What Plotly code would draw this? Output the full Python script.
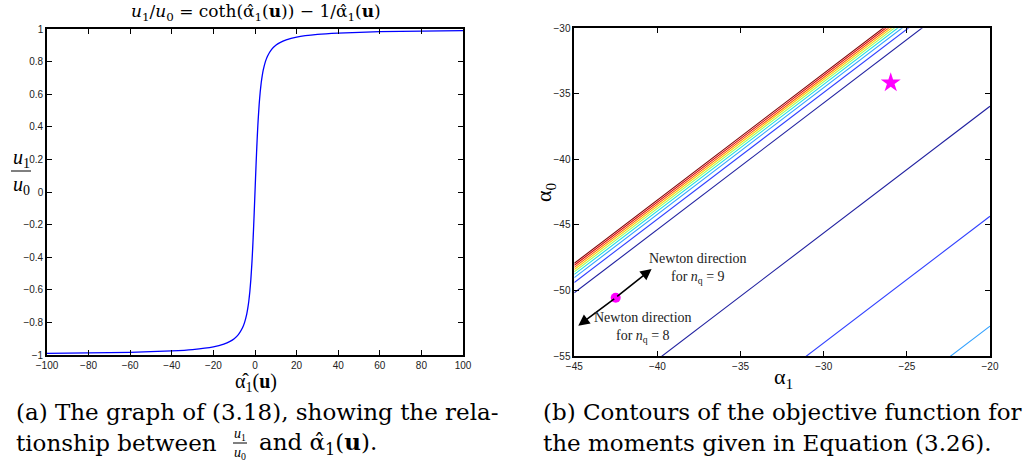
import plotly.graph_objects as go

# ---- panel (a): u1/u0 against alpha_hat_1(u) ----
alpha_hat = [-100, -80, -60, -40, -30, -20, -15, -12, -10, -8, -6, -5, -4, -3.5, -3, -2.5, -2, -1.5,
             -1.25, -1, -0.75, -0.5, -0.25, 0, 0.25, 0.5, 0.75, 1, 1.25, 1.5, 2, 2.5, 3, 3.5, 4,
             5, 6, 8, 10, 12, 15, 20, 30, 40, 60, 80, 100]
u_ratio = [-0.99, -0.9875, -0.9833, -0.975, -0.9667, -0.95, -0.9333, -0.9167, -0.9, -0.875, -0.8333,
           -0.8001, -0.7507, -0.7161, -0.6716, -0.6136, -0.5373, -0.4381, -0.3789, -0.3130, -0.2411,
           -0.1640, -0.0830, 0.0, 0.0830, 0.1640, 0.2411, 0.3130, 0.3789, 0.4381, 0.5373, 0.6136,
           0.6716, 0.7161, 0.7507, 0.8001, 0.8333, 0.875, 0.9, 0.9167, 0.9333, 0.95, 0.9667, 0.975,
           0.9833, 0.9875, 0.99]
ticks_a_x = [-100, -80, -60, -40, -20, 0, 20, 40, 60, 80, 100]
ticks_a_y = [-1, -0.8, -0.6, -0.4, -0.2, 0, 0.2, 0.4, 0.6, 0.8, 1]

# ---- panel (b): contour lines alpha0 = slope*alpha1 + offset ----
contour_slope = 0.966
contour_offsets = [-4.46, -4.61, -4.77, -4.93, -5.10, -5.30, -5.55, -5.92, -6.71,
                   -16.63, -25.02, -33.40]
contour_colors = ['#800000', '#e00000', '#ff6000', '#ffd000', '#a0ff60', '#20e0e0', '#30a0ff',
                  '#3040ff', '#2020a0', '#2020a0', '#3040ff', '#30a0ff']
alpha1_range = [-45, -20]
alpha0_range = [-55, -30]
ticks_b_x = [-45, -40, -35, -30, -25, -20]
ticks_b_y = [-55, -50, -45, -40, -35, -30]
star_point = (-25.97, -34.15)
start_point = (-42.51, -50.55)
newton_tip_9 = (-40.35, -48.36)
newton_tip_8 = (-44.76, -52.69)

SERIF = 'Liberation Serif'
CAPTION = 'DejaVu Serif'
SANS = 'Liberation Sans, Arial, sans-serif'

fig = go.Figure()

fig.add_trace(go.Scatter(x=alpha_hat, y=u_ratio, mode='lines', line=dict(color='#0000ff', width=1.3, shape='spline', smoothing=0.6),
                         xaxis='x', yaxis='y', showlegend=False, hoverinfo='skip'))

for off, col in zip(contour_offsets, contour_colors):
    xs = alpha1_range
    ys = [contour_slope * v + off for v in xs]
    fig.add_trace(go.Scatter(x=xs, y=ys, mode='lines', line=dict(color=col, width=1.1),
                             xaxis='x2', yaxis='y2', showlegend=False, hoverinfo='skip'))

fig.add_trace(go.Scatter(x=[star_point[0]], y=[star_point[1]], mode='markers',
                         marker=dict(symbol='star', size=15, color='#ff00ff', line=dict(width=0)),
                         xaxis='x2', yaxis='y2', showlegend=False))
fig.add_trace(go.Scatter(x=[start_point[0]], y=[start_point[1]], mode='markers',
                         marker=dict(symbol='circle', size=10, color='#ff00ff', line=dict(width=0)),
                         xaxis='x2', yaxis='y2', showlegend=False))

axis_common = dict(showline=True, linecolor='black', linewidth=1.6, mirror='allticks', ticks='inside',
                   ticklen=5, tickwidth=1, tickcolor='black', showgrid=False, zeroline=False,
                   automargin=False, tickfont=dict(family=SANS, size=10, color='#222'))

fig.update_layout(
    width=1033, height=465, margin=dict(l=0, r=0, t=0, b=0, autoexpand=False),
    paper_bgcolor='white', plot_bgcolor='white',
    xaxis=dict(domain=[47 / 1033, 463 / 1033], range=[-100, 100], tickvals=ticks_a_x, anchor='y', **axis_common),
    yaxis=dict(domain=[110 / 465, 436 / 465], range=[-1, 1], tickvals=ticks_a_y, anchor='x', **axis_common),
    xaxis2=dict(domain=[574.3 / 1033, 990 / 1033], range=alpha1_range, tickvals=ticks_b_x, anchor='y2', **axis_common),
    yaxis2=dict(domain=[109 / 465, 436.7 / 465], range=alpha0_range, tickvals=ticks_b_y, anchor='x2', **axis_common),
)

ann = []

def paper_text(text, x, y, size, xanchor='center', yanchor='middle', angle=0, family=SERIF):
    ann.append(dict(text=text, x=x / 1033, y=1 - y / 465, xref='paper', yref='paper', showarrow=False,
                    xanchor=xanchor, yanchor=yanchor, textangle=angle,
                    font=dict(family=family, size=size, color='black')))

# titles and axis labels
paper_text('<i>u</i><sub>1</sub>/<i>u</i><sub>0</sub>\u00a0=\u00a0coth(α̂<sub>1</sub>(<b>u</b>))\u00a0−\u00a01/α̂<sub>1</sub>(<b>u</b>)',
           256, 13, 17, family=CAPTION)
paper_text('α̂<sub>1</sub>(<b>u</b>)', 256, 382, 20)
paper_text('<i>u</i><sub>1</sub>', 21, 158, 20)
paper_text('<i>u</i><sub>0</sub>', 21, 185, 20)
paper_text('α<sub>1</sub>', 783, 378, 22)
paper_text('α<sub>0</sub>', 545, 192, 22, angle=-90)

# captions
paper_text('(a) The graph of (3.18), showing the rela-', 14, 412, 23, xanchor='left', family=CAPTION)
paper_text('tionship between', 14, 443, 23, xanchor='left', family=CAPTION)
paper_text('<i>u</i><sub>1</sub>', 240, 434, 14)
paper_text('<i>u</i><sub>0</sub>', 240, 453, 14)
paper_text('and α̂<sub>1</sub>(<b>u</b>).', 257, 443, 23, xanchor='left', family=CAPTION)
paper_text('(b) Contours of the objective function for', 541, 412, 23, xanchor='left', family=CAPTION)
paper_text('the moments given in Equation (3.26).', 541, 443, 23, xanchor='left', family=CAPTION)

# Newton direction arrows and labels
for tip in (newton_tip_9, newton_tip_8):
    ann.append(dict(x=tip[0], y=tip[1], ax=start_point[0], ay=start_point[1], xref='x2', yref='y2',
                    axref='x2', ayref='y2', text='', showarrow=True, arrowhead=2, arrowsize=1.4,
                    arrowwidth=1.6, arrowcolor='black', standoff=0, startstandoff=0))
ann.append(dict(text='Newton direction<br>for <i>n</i><sub>q</sub> = 9', x=-37.59, y=-48.36, xref='x2', yref='y2',
                showarrow=False, align='center', font=dict(family=SERIF, size=14, color='#222')))
ann.append(dict(text='Newton direction<br>for <i>n</i><sub>q</sub> = 8', x=-40.88, y=-52.79, xref='x2', yref='y2',
                showarrow=False, align='center', font=dict(family=SERIF, size=14, color='#222')))

fig.update_layout(annotations=ann)

# fraction bars
fig.add_shape(type='line', x0=11 / 1033, x1=31 / 1033, y0=1 - 171 / 465, y1=1 - 171 / 465, xref='paper', yref='paper',
              line=dict(color='black', width=1))
fig.add_shape(type='line', x0=233 / 1033, x1=247 / 1033, y0=1 - 443 / 465, y1=1 - 443 / 465, xref='paper', yref='paper',
              line=dict(color='black', width=1))

fig.write_html('out.html')
